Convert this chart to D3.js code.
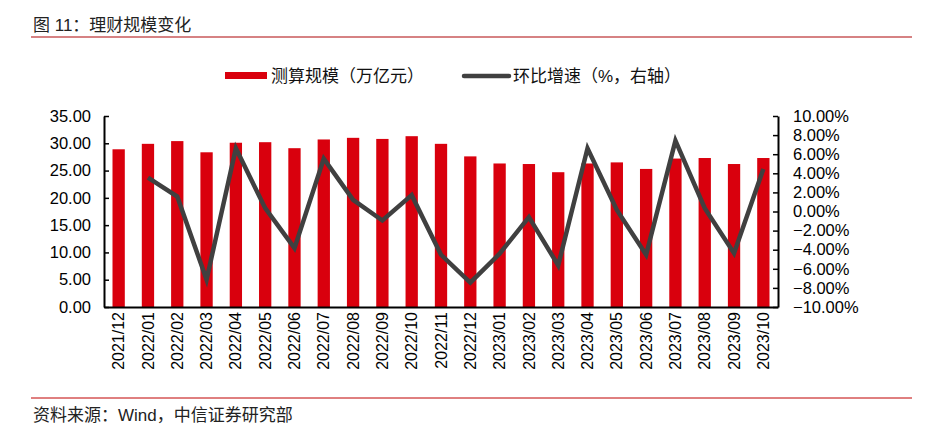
<!DOCTYPE html>
<html>
<head>
<meta charset="utf-8">
<script src="https://cdn.jsdelivr.net/npm/d3@7"></script>
<style>
  body { margin: 0; background: #fff; }
  svg text { font-family: "Liberation Sans", Arial, "Noto Sans CJK SC", sans-serif; }
</style>
</head>
<body>
<div id="chart"></div>
<script>
var months = ["2021/12", "2022/01", "2022/02", "2022/03", "2022/04", "2022/05", "2022/06",
  "2022/07", "2022/08", "2022/09", "2022/10", "2022/11", "2022/12", "2023/01", "2023/02",
  "2023/03", "2023/04", "2023/05", "2023/06", "2023/07", "2023/08", "2023/09", "2023/10"];
var scale = [28.9, 29.9, 30.4, 28.35, 30.1, 30.2, 29.1, 30.7, 31.0, 30.8, 31.3, 29.9, 27.6,
  26.3, 26.2, 24.7, 26.3, 26.5, 25.3, 27.2, 27.3, 26.2, 27.3];
var growth = [null, 3.55, 1.57, -7.14, 6.62, 0.35, -3.83, 5.54, 1.22, -0.94, 1.71, -4.53, -7.45,
  -4.42, -0.59, -5.64, 6.62, 0.17, -4.53, 7.42, 0.35, -4.36, 4.46];
var leftTicks = [0, 5, 10, 15, 20, 25, 30, 35];
var rightTicks = [-10, -8, -6, -4, -2, 0, 2, 4, 6, 8, 10];

var width = 942, height = 436;
var margins = { "top": 116, "left": 104, "right": 164, "bottom": 129 };

var svg = d3.select('div#chart')
            .append('svg')
            .attr('width', width)
            .attr('height', height);

// title and rules
svg.append('text').attr('x', 33).attr('y', 31)
   .attr('font-size', 17).attr('fill', '#222')
   .text('图 11：理财规模变化');
svg.append('line').attr('x1', 31).attr('x2', 912).attr('y1', 37).attr('y2', 37)
   .attr('stroke', '#c9595a').attr('stroke-width', 1.5);
svg.append('line').attr('x1', 31).attr('x2', 912).attr('y1', 398).attr('y2', 398)
   .attr('stroke', '#c00000').attr('stroke-width', 1);
svg.append('text').attr('x', 33).attr('y', 421)
   .attr('font-size', 17).attr('fill', '#222')
   .text('资料来源：Wind，中信证券研究部');

var xScale = d3.scaleBand()
               .domain(months)
               .range([margins.left, width - margins.right])
               .paddingInner(0.58)
               .paddingOuter(0.29);

var yLeft = d3.scaleLinear().domain([0, 35]).range([height - margins.bottom, margins.top]);
var yRight = d3.scaleLinear().domain([-10, 10]).range([height - margins.bottom, margins.top]);

// bars
svg.selectAll('rect.bar')
   .data(scale)
   .enter()
   .append('rect')
   .attr('class', 'bar')
   .attr('x', function (d, i) { return xScale(months[i]); })
   .attr('y', function (d) { return yLeft(d); })
   .attr('width', xScale.bandwidth())
   .attr('height', function (d) { return yLeft(0) - yLeft(d); })
   .attr('fill', '#d9000d');

// line
var line = d3.line()
             .defined(function (d) { return d !== null; })
             .x(function (d, i) { return xScale(months[i]) + xScale.bandwidth() / 2; })
             .y(function (d) { return yRight(d); });

svg.append('path')
   .datum(growth)
   .attr('d', line)
   .attr('fill', 'none')
   .attr('stroke', '#404040')
   .attr('stroke-width', 4.5)
   .attr('stroke-linejoin', 'miter');

// axes
var leftAxis = d3.axisLeft(yLeft).tickValues(leftTicks)
                 .tickFormat(d3.format('.2f')).tickSizeInner(-5).tickSizeOuter(0).tickPadding(13);
var rightAxis = d3.axisRight(yRight).tickValues(rightTicks)
                  .tickFormat(function (d) { return d3.format('.2f')(d) + '%'; })
                  .tickSizeInner(-5).tickSizeOuter(0).tickPadding(15);
var xAxis = d3.axisBottom(xScale).tickSize(0).tickPadding(6);

var gl = svg.append('g').attr('transform', 'translate(' + margins.left + ',0)').call(leftAxis);
var gr = svg.append('g').attr('transform', 'translate(' + (width - margins.right) + ',0)').call(rightAxis);
var gx = svg.append('g').attr('transform', 'translate(0,' + (height - margins.bottom) + ')').call(xAxis);

[gl, gr, gx].forEach(function (g) {
  g.select('.domain').attr('stroke', '#000').attr('stroke-width', 2);
  g.selectAll('.tick line').attr('stroke', '#000').attr('stroke-width', 1.5);
  g.selectAll('text').attr('fill', '#000').attr('font-size', 16.5)
   .attr('font-family', '"Liberation Sans", Arial, sans-serif');
});

gx.selectAll('text')
  .attr('font-size', 16)
  .style('text-anchor', 'end')
  .attr('dx', '-5px')
  .attr('dy', '0.35em')
  .attr('y', 0)
  .attr('x', 0)
  .attr('transform', 'rotate(-90)');

// legend
var legend = svg.append('g').attr('font-size', 17);
legend.append('rect').attr('x', 225).attr('y', 72).attr('width', 42).attr('height', 7)
      .attr('fill', '#d9000d');
legend.append('text').attr('x', 271).attr('y', 82).attr('fill', '#111').text('测算规模（万亿元）');
legend.append('line').attr('x1', 464).attr('x2', 509).attr('y1', 76).attr('y2', 76)
      .attr('stroke', '#404040').attr('stroke-width', 4.5).attr('stroke-linecap', 'round');
legend.append('text').attr('x', 513).attr('y', 82).attr('fill', '#111').text('环比增速（%，右轴）');
</script>
</body>
</html>
